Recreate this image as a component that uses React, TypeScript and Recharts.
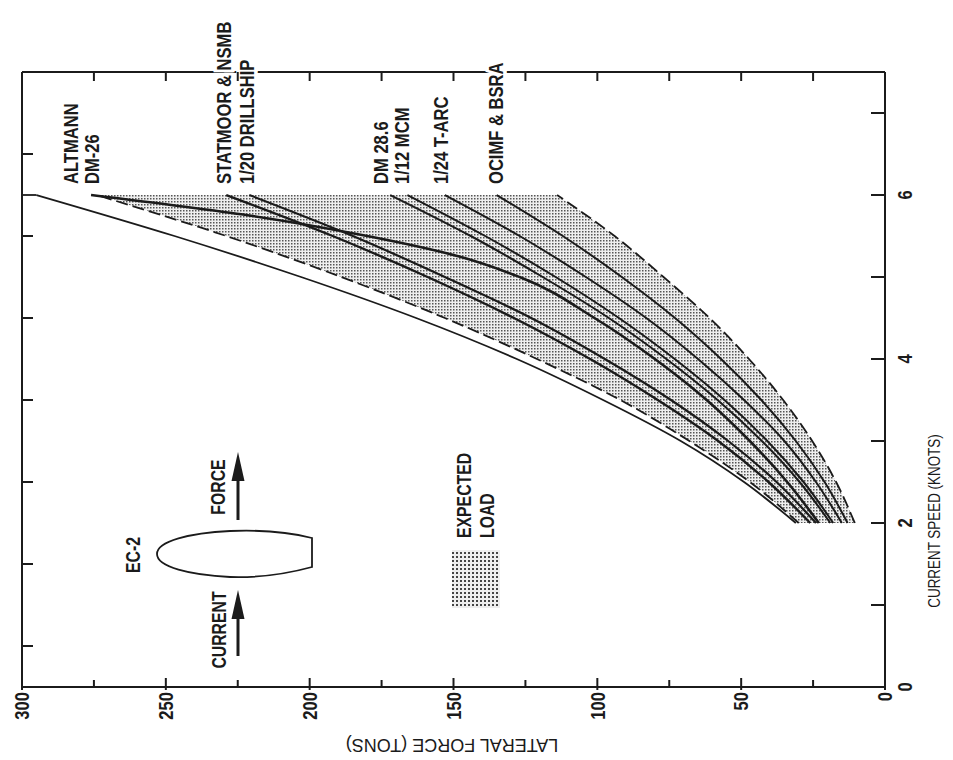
import React from "react";
import { ComposedChart, Line, Area, XAxis, YAxis, ReferenceDot } from "recharts";

// current speed (knots) at which every model curve is read
const speeds = [2, 2.5, 3, 3.5, 4, 4.5, 5, 5.5, 6];

// lateral force (tons) per curve
const envelope = [31, 49, 71, 98, 128, 163, 203, 247, 295];
const altmann = [30, 47, 68, 92, 121, 153, 189, 229, 274];
const statmoor = [26, 40.5, 58, 79, 102.5, 129, 159, 192, 229];
const drillship = [24, 37.7, 54.5, 74.4, 97.4, 123, 153, 185, 221];
const dm286 = [19, 29.7, 42.8, 58.2, 76, 96, 119, 144, 172];
const mcm = [18, 28.3, 40.9, 55.8, 73.1, 92.5, 114.5, 139, 166];
const tarc = [15, 24, 35, 49, 65, 83, 104, 127, 153];
const ocimf = [13, 21, 31, 43, 57, 73, 91.5, 112, 135];
const lowerBound = [10.5, 17, 25.3, 35.4, 47.3, 61, 77, 94, 114];

// DM-26 bends sharply near the top, so it has its own speeds
const dm26Speeds = [2, 2.5, 3, 3.5, 4, 4.5, 5, 5.25, 5.5, 5.75, 6];
const dm26 = [23, 34, 47, 62, 80, 101, 127, 148, 180, 221, 276];

// envelope is cut flat at 6 knots up to the frame
const capForces = [295, 300];
const capSpeeds = [6, 6];

const forceTicks = [0, 25, 50, 75, 100, 125, 150, 175, 200, 225, 250, 275, 300];
const speedTicks = [0, 1, 2, 3, 4, 5, 6, 7];
const topTicks = [25, 50, 75, 100, 125, 150, 175, 200, 225, 250, 275];
const leftTicks = [0.5, 1.5, 2.5, 3.5, 4.5, 5.5, 6.5];

const curveLabels = [
  { force: 276, lines: ["ALTMANN", "DM-26"], dx: -20 },
  { force: 229, lines: ["STATMOOR & NSMB"], dx: -2 },
  { force: 221, lines: ["1/20 DRILLSHIP"], dx: -2 },
  { force: 172, lines: ["DM 28.6"], dx: -9 },
  { force: 166, lines: ["1/12 MCM"], dx: -6 },
  { force: 153, lines: ["1/24 T-ARC"], dx: -4 },
  { force: 135, lines: ["OCIMF & BSRA"], dx: -1 },
];

const INK = "#1b1b1b";
const SANS = "'Liberation Sans', Arial, Helvetica, sans-serif";

const toPoints = (ss: number[], fs: number[]) => ss.map((s, i) => ({ speed: s, force: fs[i] }));

const series = [
  { key: "envelope", data: toPoints(speeds, envelope), dash: undefined, w: 1.8 },
  { key: "altmann", data: toPoints(speeds, altmann), dash: "12 5", w: 1.8 },
  { key: "dm26", data: toPoints(dm26Speeds, dm26), dash: undefined, w: 2.6 },
  { key: "statmoor", data: toPoints(speeds, statmoor), dash: undefined, w: 2.4 },
  { key: "drillship", data: toPoints(speeds, drillship), dash: undefined, w: 2.2 },
  { key: "dm286", data: toPoints(speeds, dm286), dash: undefined, w: 2 },
  { key: "mcm", data: toPoints(speeds, mcm), dash: undefined, w: 2 },
  { key: "tarc", data: toPoints(speeds, tarc), dash: undefined, w: 2 },
  { key: "ocimf", data: toPoints(speeds, ocimf), dash: undefined, w: 2 },
  { key: "lower", data: toPoints(speeds, lowerBound), dash: "12 5", w: 1.8 },
];

const bandData = speeds.map((s, i) => ({ speed: s, band: [lowerBound[i], altmann[i]] }));

// text read bottom-to-top, squeezed along its reading direction like the scanned lettering
function RText({ x, y, anchor = "middle", size = 21, bold = true, halo = false, children }: any) {
  return (
    <text transform={`translate(${x} ${y}) rotate(-90) scale(0.79 1)`} x={0} y={0} textAnchor={anchor}
      dominantBaseline="central" fontFamily={SANS} fontWeight={bold ? "bold" : "normal"} fontSize={size}
      fill={INK} stroke={halo ? "#fff" : "none"} strokeWidth={halo ? 7 : 0} paintOrder="stroke">
      {children}
    </text>
  );
}

function ForceTick({ x, y, payload }: any) {
  const v = payload.value;
  const major = v % 50 === 0;
  return (
    <g>
      <line x1={x} x2={x} y1={y - (major ? 9 : 7)} y2={y + (major ? 3 : 0)} stroke={INK} strokeWidth={2} />
      {major && <RText x={x} y={y + 5} anchor="end">{v}</RText>}
    </g>
  );
}

function SpeedTick({ x, y, payload }: any) {
  const v = payload.value;
  return (
    <g>
      <line x1={x - 14} x2={x} y1={y} y2={y} stroke={INK} strokeWidth={2} />
      {v % 2 === 0 && <RText x={x + 20} y={y}>{v}</RText>}
    </g>
  );
}

function TopTick({ x, y }: any) {
  return <line x1={x} x2={x} y1={y} y2={y + 9} stroke={INK} strokeWidth={2} />;
}

function LeftTick({ x, y }: any) {
  return <line x1={x} x2={x + 11} y1={y} y2={y} stroke={INK} strokeWidth={2} />;
}

function CurveLabel(props: any) {
  const { viewBox, lines, dx } = props;
  if (!viewBox) return null;
  const cx = viewBox.x + (viewBox.width || 0) / 2;
  const cy = viewBox.y + (viewBox.height || 0) / 2;
  return (
    <g>
      {lines.map((t: string, i: number) => (
        <RText key={t} x={cx + dx + i * 21} y={cy - 11} anchor="start" halo>
          {t}
        </RText>
      ))}
    </g>
  );
}

function Annotations() {
  return (
    <svg width={953} height={760} style={{ position: "absolute", left: 0, top: 0, pointerEvents: "none" }}>
      <defs>
        <pattern id="swatch" width="4" height="4" patternUnits="userSpaceOnUse">
          <rect width="4" height="4" fill="#eeeeee" />
          <rect width="2" height="2" fill="#444" />
        </pattern>
      </defs>
      {/* axis titles */}
      <RText x={934} y={521} size={17} bold={false}>CURRENT SPEED (KNOTS)</RText>
      <text x={452} y={745} transform="rotate(180 452 745)" textAnchor="middle" dominantBaseline="central"
        fontFamily={SANS} fontSize={18} fill={INK}>
        LATERAL FORCE (TONS)
      </text>
      {/* ship sketch */}
      <path d="M 312 538 C 285 531, 255 530, 230 531 C 190 533, 157 541, 157 554 C 157 567, 190 575, 230 577 C 262 578, 290 573, 312 567 Z"
        fill="none" stroke={INK} strokeWidth={1.8} />
      <RText x={133} y={555} size={20}>EC-2</RText>
      <line x1={238} x2={238} y1={520} y2={472} stroke={INK} strokeWidth={3} />
      <polygon points="238,452 231.5,481 244.5,481" fill={INK} />
      <RText x={218} y={487} size={20}>FORCE</RText>
      <line x1={238} x2={238} y1={656} y2={610} stroke={INK} strokeWidth={3} />
      <polygon points="238,590 231.5,619 244.5,619" fill={INK} />
      <RText x={219} y={630} size={20}>CURRENT</RText>
      {/* legend */}
      <RText x={464} y={538} anchor="start" size={20}>EXPECTED</RText>
      <RText x={487} y={538} anchor="start" size={20}>LOAD</RText>
      <rect x={452} y={550} width={48} height={58} fill="url(#swatch)" />
    </svg>
  );
}

export default function App() {
  return (
    <div style={{ position: "absolute", left: 0, top: 0, width: 953, height: 760, background: "#fff" }}>
      <ComposedChart width={953} height={760} layout="vertical" data={bandData}
        margin={{ top: 71, right: 38, bottom: 43, left: 21 }}>
        <defs>
          <pattern id="stipple" width="3" height="3" patternUnits="userSpaceOnUse">
            <rect width="3" height="3" fill="#efefef" />
            <rect width="1.5" height="1.5" fill="#555" />
          </pattern>
        </defs>
        <XAxis xAxisId="f" type="number" domain={[0, 300]} reversed allowDataOverflow ticks={forceTicks}
          interval={0} height={30} tickSize={0} tickMargin={0} tickLine={false} tick={<ForceTick />}
          axisLine={{ stroke: INK, strokeWidth: 2 }} />
        <XAxis xAxisId="t" orientation="top" type="number" domain={[0, 300]} reversed allowDataOverflow
          ticks={topTicks} interval={0} height={1} tickSize={0} tickMargin={0} tickLine={false} tick={<TopTick />}
          axisLine={{ stroke: INK, strokeWidth: 2 }} />
        <YAxis yAxisId="s" orientation="right" type="number" dataKey="speed" domain={[0, 7.5]} reversed
          allowDataOverflow ticks={speedTicks} interval={0} width={30} tickSize={0} tickMargin={0} tickLine={false}
          tick={<SpeedTick />} axisLine={{ stroke: INK, strokeWidth: 2 }} />
        <YAxis yAxisId="l" orientation="left" type="number" dataKey="speed" domain={[0, 7.5]} reversed
          allowDataOverflow ticks={leftTicks} interval={0} width={1} tickSize={0} tickMargin={0} tickLine={false}
          tick={<LeftTick />} axisLine={{ stroke: INK, strokeWidth: 2 }} />
        <Area xAxisId="f" yAxisId="s" dataKey="band" type="monotone" fill="url(#stipple)" fillOpacity={1}
          stroke="none" isAnimationActive={false} />
        {series.map((s) => (
          <Line key={s.key} xAxisId="f" yAxisId="s" data={s.data} dataKey="force" type="monotone"
            stroke={INK} strokeWidth={s.w} strokeDasharray={s.dash} dot={false} activeDot={false}
            isAnimationActive={false} />
        ))}
        <Line xAxisId="f" yAxisId="s" data={toPoints(capSpeeds, capForces)} dataKey="force" type="linear"
          stroke={INK} strokeWidth={1.8} dot={false} activeDot={false} isAnimationActive={false} />
        {/* invisible copy so the frame axes (top, left) have a series and get drawn */}
        <Line xAxisId="t" yAxisId="l" data={toPoints(capSpeeds, capForces)} dataKey="force" type="linear"
          stroke="none" dot={false} activeDot={false} isAnimationActive={false} />
        {curveLabels.map((c) => (
          <ReferenceDot key={c.lines[0]} xAxisId="f" yAxisId="s" x={c.force} y={6} r={0} stroke="none"
            label={<CurveLabel lines={c.lines} dx={c.dx} />} />
        ))}
      </ComposedChart>
      <Annotations />
    </div>
  );
}
